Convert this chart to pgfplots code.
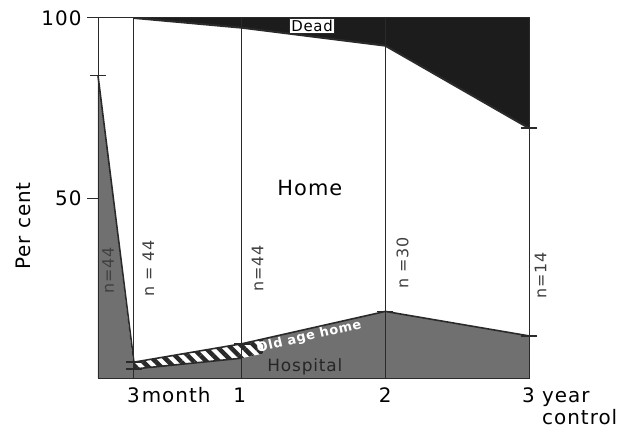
\documentclass[border=0pt]{standalone}
\usepackage{fontspec}
\setmainfont{DejaVu Sans}[LetterSpace=5]
\usepackage{pgfplots}
\pgfplotsset{compat=1.18}
\usetikzlibrary{patterns.meta}
\definecolor{deadc}{HTML}{1C1C1C}
\definecolor{hospc}{HTML}{707070}
\definecolor{linec}{HTML}{2A2A2A}

\begin{document}
\begin{tikzpicture}
\begin{axis}[
    name=ax,
    scale only axis,
    width=431bp, height=360bp,
    xmin=0, xmax=3, ymin=0, ymax=100,
    axis on top,
    axis line style={linec, line width=1pt},
    xtick={0,0.25,1,2,3},
    xticklabels={},
    xtick style={draw=none},
    xmajorgrids,
    major x grid style={linec, line width=0.9pt},
    ytick={50,100},
    ytick pos=left,
    tick align=outside,
    major tick length=11bp,
    ytick style={linec, line width=1pt},
    yticklabel style={font=\fontsize{20}{24}\selectfont, xshift=-2bp},
    /pgf/number format/assume math mode=true,
    ylabel={Per cent},
    ylabel style={font=\fontsize{20}{24}\selectfont, at={(rel axis cs:-0.172,0.422)}, anchor=center},
    clip=false,
]
% dead
\addplot[fill=deadc, draw=none] coordinates {(0.25,100)(1,97.3)(2,92.3)(3,69.4)(3,100)} -- cycle;
% hospital / first interview
\addplot[fill=hospc, draw=none] coordinates {(0,0)(0,84)(0.25,2.5)(1,5.5)(1,9.5)(2,18.5)(3,11.7)(3,0)} -- cycle;
% old age home (hatched part)
\addplot[draw=none, pattern={Lines[angle=-45, distance=9bp, line width=4.5bp]}, pattern color=linec,
    preaction={fill=white}]
    coordinates {(0.25,2.5)(1,5.5)(1.15,6.8)(1.15,10.8)(1,9.5)(0.25,4.4)} -- cycle;
% boundaries
\addplot[linec, line width=2pt] coordinates {(0.25,100)(1,97.3)(2,92.3)(3,69.4)};
\addplot[linec, line width=1.6pt] coordinates {(0,84)(0.25,4.4)};
\addplot[linec, line width=1.6pt] coordinates {(0.25,2.5)(1,5.5)};
\addplot[linec, line width=1.6pt] coordinates {(0.25,4.4)(1,9.5)(2,18.5)(3,11.7)};
\addplot[only marks, mark=-, mark size=8bp, mark options={linec, line width=1.5pt}]
    coordinates {(0,84)(0.25,2.5)(0.25,4.4)(1,9.5)(2,18.5)(3,69.4)(3,11.7)};

% labels inside
\node[fill=white, draw=linec, line width=0.8pt, inner sep=1.8bp, font=\fontsize{15}{16}\selectfont]
    at (axis cs:1.49,97.8) {Dead};
\node[font=\fontsize{21}{24}\selectfont] at (axis cs:1.475,52.8) {Home};
\node[font=\fontsize{17}{18}\selectfont, text=black!85] at (axis cs:1.44,3.0) {Hospital};
\node[font=\fontsize{13}{14}\selectfont\bfseries, text=white, rotate=13, inner sep=0pt] at (axis cs:1.47,11.5) {Old age home};
\node[rotate=90, font=\fontsize{16}{18}\selectfont, text=black!75] at (axis cs:0.07,30) {n=44};
\node[rotate=90, font=\fontsize{16}{18}\selectfont, text=black!75] at (axis cs:0.35,30.5) {n = 44};
\node[rotate=90, font=\fontsize{16}{18}\selectfont, text=black!75] at (axis cs:1.11,30.5) {n=44};
\node[rotate=90, font=\fontsize{16}{18}\selectfont, text=black!75] at (axis cs:2.12,32) {n =30};
\node[rotate=90, font=\fontsize{16}{18}\selectfont, text=black!75] at (axis cs:3.08,28.6) {n=14};

% x labels
\node[anchor=base west, inner sep=0pt, font=\fontsize{20}{24}\selectfont] at (axis cs:0.25,0) [xshift=-7bp, yshift=-24bp] {3\kern2bp month};
\node[anchor=base, inner sep=0pt, font=\fontsize{20}{24}\selectfont] at (axis cs:1,0) [xshift=-2bp, yshift=-24bp] {1};
\node[anchor=base, inner sep=0pt, font=\fontsize{20}{24}\selectfont] at (axis cs:2,0) [yshift=-24bp] {2};
\node[anchor=base west, inner sep=0pt, font=\fontsize{20}{24}\selectfont] at (axis cs:3,0) [xshift=-7bp, yshift=-24bp] {3 year};
\node[anchor=base west, inner sep=0pt, font=\fontsize{20}{24}\selectfont] at (axis cs:3,0) [xshift=13bp, yshift=-46bp] {control};
\end{axis}
\pgfresetboundingbox
\path (ax.south west) ++(-98bp,-57bp) rectangle ++(630bp,435bp);
\end{tikzpicture}
\end{document}
